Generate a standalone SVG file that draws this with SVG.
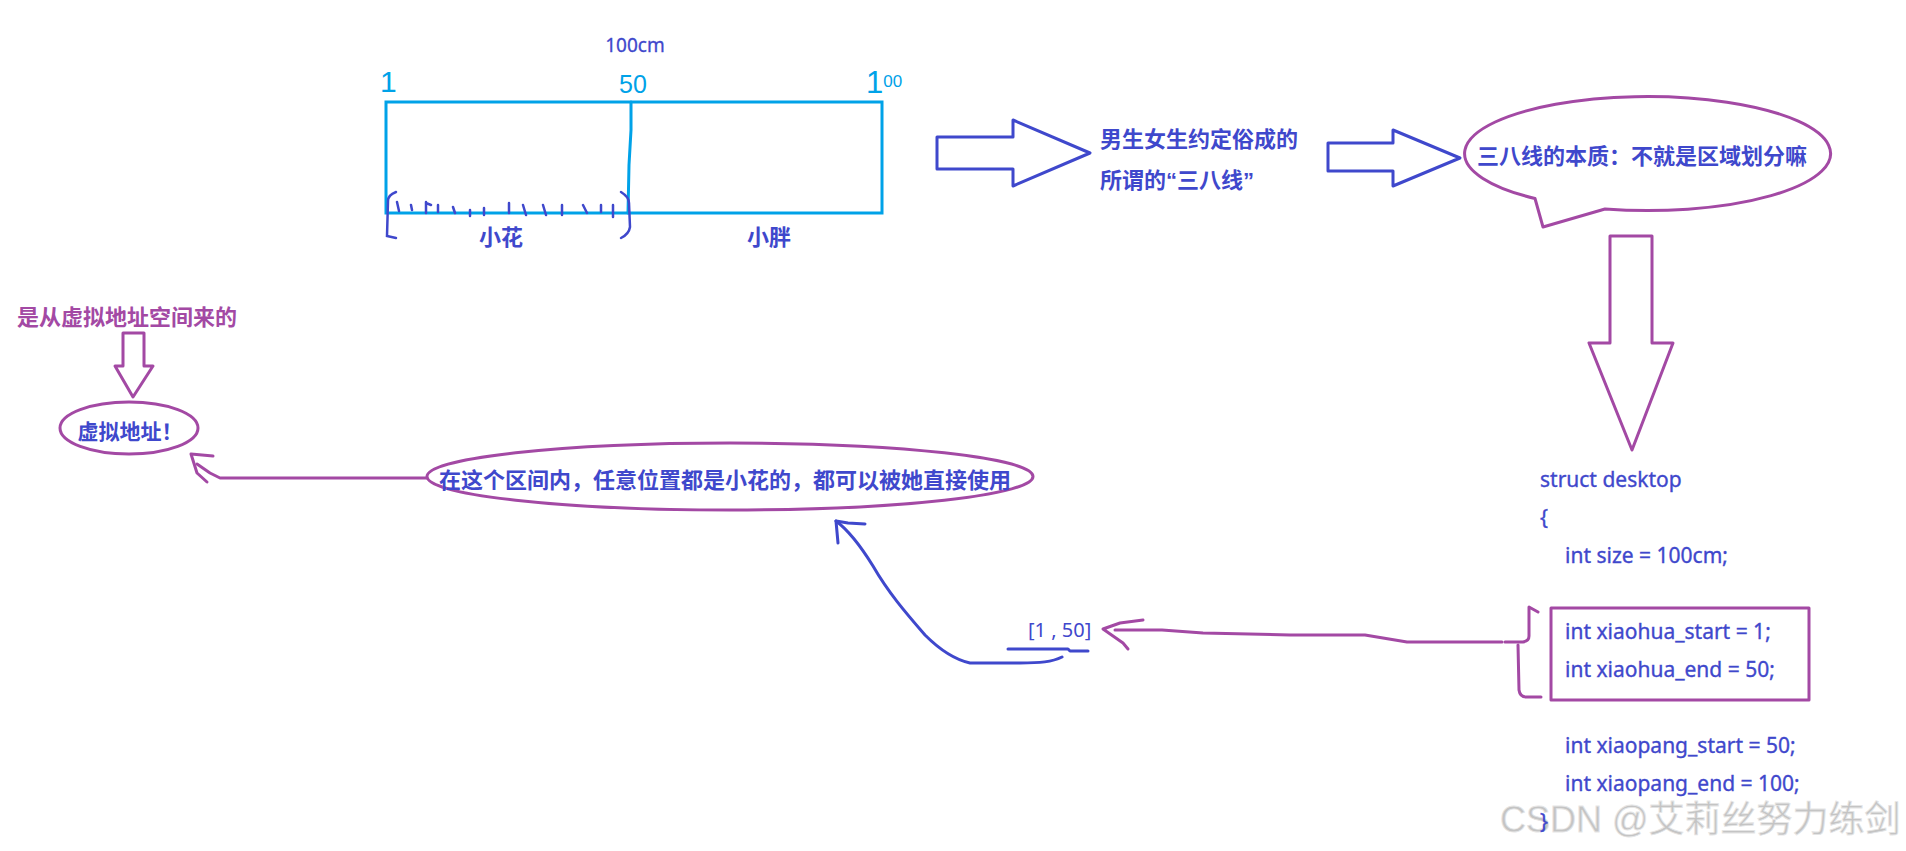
<svg xmlns="http://www.w3.org/2000/svg" width="1906" height="851" viewBox="0 0 1906 851">
<style>
.cn{font-family:"Liberation Sans","Noto Sans CJK SC",sans-serif;font-weight:bold;font-size:22px}
.blue{fill:#3f48cc}
.pur{fill:#a349a4}
.code{font-family:"Noto Sans","Noto Sans CJK SC",sans-serif;font-size:21px;fill:#3f48cc;stroke:#3f48cc;stroke-width:0.35}
.hand{font-family:"Liberation Sans",sans-serif;fill:#00a2e8}
.sb{fill:none;stroke:#3f48cc;stroke-width:3;stroke-linejoin:round;stroke-linecap:round}
.sp{fill:none;stroke:#a349a4;stroke-width:3;stroke-linejoin:round;stroke-linecap:round}
.sl{fill:none;stroke:#00a2e8;stroke-width:3;stroke-linecap:round}
.tk{fill:none;stroke:#3f48cc;stroke-width:2.5;stroke-linecap:round}
</style>
<rect width="1906" height="851" fill="#ffffff"/>

<g id="desk">
  <text x="635" y="52" text-anchor="middle" style="font-family:'Noto Sans',sans-serif;font-size:19px;stroke:#3f48cc;stroke-width:0.3" class="blue">100cm</text>
  <text x="380" y="92" class="hand" font-size="30">1</text>
  <text x="619" y="93" class="hand" font-size="25">50</text>
  <text x="866" y="93" class="hand" font-size="31">1<tspan font-size="17" dy="-6">00</tspan></text>
  <rect x="386" y="102" width="496" height="111" class="sl"/>
  <path d="M631,102 L631,130 L629,165 L628,213" class="sl"/>
  <path d="M396,192 Q388,195 388,201 L387,236 L396,238" class="tk" stroke-width="3"/>
  <path d="M621,192 Q629,197 629,203 L630,227 Q629,234 621,238" class="tk" stroke-width="3"/>
  <path d="M397,202 L399,211 M411,205 L412,210 M426,202 L426,213 M426,203 L431,205 M438,205 L438,212 M453,207 L455,213 M470,210 L470,216 M484,208 L484,215 M509,203 L509,213 M523,205 L526,215 M543,205 L546,215 M562,205 L562,215 M583,205 L587,213 M601,205 L601,212 M613,205 L613,217" class="tk"/>
  <text x="501" y="245" text-anchor="middle" class="cn blue">小花</text>
  <text x="769" y="245" text-anchor="middle" class="cn blue">小胖</text>
</g>

<g id="arrow1">
  <polygon points="937,137 1013,137 1013,120 1090,153 1013,186 1013,169 937,169" class="sb"/>
</g>

<g id="text-sanba">
  <text x="1100" y="147" class="cn blue">男生女生约定俗成的</text>
  <text x="1100" y="188" class="cn blue">所谓的“三八线”</text>
</g>

<g id="arrow2">
  <polygon points="1328,143 1393,143 1393,130 1460,158 1393,186 1393,171 1328,171" class="sb"/>
</g>

<g id="bubble">
  <path d="M1535,198.5 L1543,227 L1605,209 A183,57 0 1 0 1535,198.5 Z" class="sp"/>
  <text x="1477" y="164" class="cn blue">三八线的本质：不就是区域划分嘛</text>
</g>

<g id="arrow-down">
  <polygon points="1610,236 1652,236 1652,343 1673,343 1632,450 1589,343 1610,343" class="sp"/>
</g>

<g id="code">
  <text x="1500" y="832" style="font-family:'Liberation Sans','Noto Sans CJK SC',sans-serif;font-size:36px;fill:#c4c4c4;stroke:#e6e6e6;stroke-width:0.8">CSDN @艾莉丝努力练剑</text>
  <text x="1540" y="487" class="code">struct desktop</text>
  <text x="1540" y="525" class="code">{</text>
  <text x="1565" y="563" class="code">int size = 100cm;</text>
  <text x="1565" y="639" class="code">int xiaohua_start = 1;</text>
  <text x="1565" y="677" class="code">int xiaohua_end = 50;</text>
  <text x="1565" y="753" class="code">int xiaopang_start = 50;</text>
  <text x="1565" y="791" class="code">int xiaopang_end = 100;</text>
  <text x="1540" y="829" class="code">}</text>
  <rect x="1551" y="608" width="258" height="92" class="sp"/>
  <path d="M1505,642 L1523,642 Q1529,641 1529,636 L1529,607 L1538,612" class="sp"/>
  <path d="M1518,645 L1519,690 Q1520,697 1526,697 L1541,697" class="sp"/>
</g>

<g id="range">
  <text x="1028" y="637" style="font-family:'Noto Sans',sans-serif;font-size:20px" class="blue">[1 , 50]</text>
  <path d="M1008,649 L1068,649 L1070,651 L1088,651" class="sb"/>
</g>

<g id="bigellipse">
  <ellipse cx="730" cy="476.5" rx="303" ry="33.5" class="sp"/>
  <text x="439" y="488" class="cn blue">在这个区间内，任意位置都是小花的，都可以被她直接使用</text>
</g>

<g id="vaddr">
  <ellipse cx="129" cy="428" rx="69" ry="26" class="sp"/>
  <text x="130" y="439" text-anchor="middle" class="cn blue" style="font-size:21px">虚拟地址！</text>
</g>

<g id="vspace">
  <text x="17" y="325" class="cn pur">是从虚拟地址空间来的</text>
  <polygon points="123,333 144,333 144,366 153,366 133,397 115,366 123,366" class="sp"/>
</g>

<g id="connectors">
  <path d="M1502,642 L1407,642 L1365,635 L1290,635 L1203,633 L1162,630 L1115,630" class="sp"/>
  <path d="M1143,620 L1120,623 L1103,629 L1123,643 L1128,649" class="sp"/>
  <path d="M1062,657 C1052,662 1040,663 1020,663 L970,663 C952,659 938,648 925,635 C905,612 888,592 873,566 C860,545 848,530 836,521" class="sb"/>
  <path d="M865,524 L848,523 L836,521 L838,543" class="sb"/>
  <path d="M427,478 L220,478 L210,473 L197,464" class="sp"/>
  <path d="M213,456 L191,454 L197,473 L207,482" class="sp"/>
</g>
</svg>
